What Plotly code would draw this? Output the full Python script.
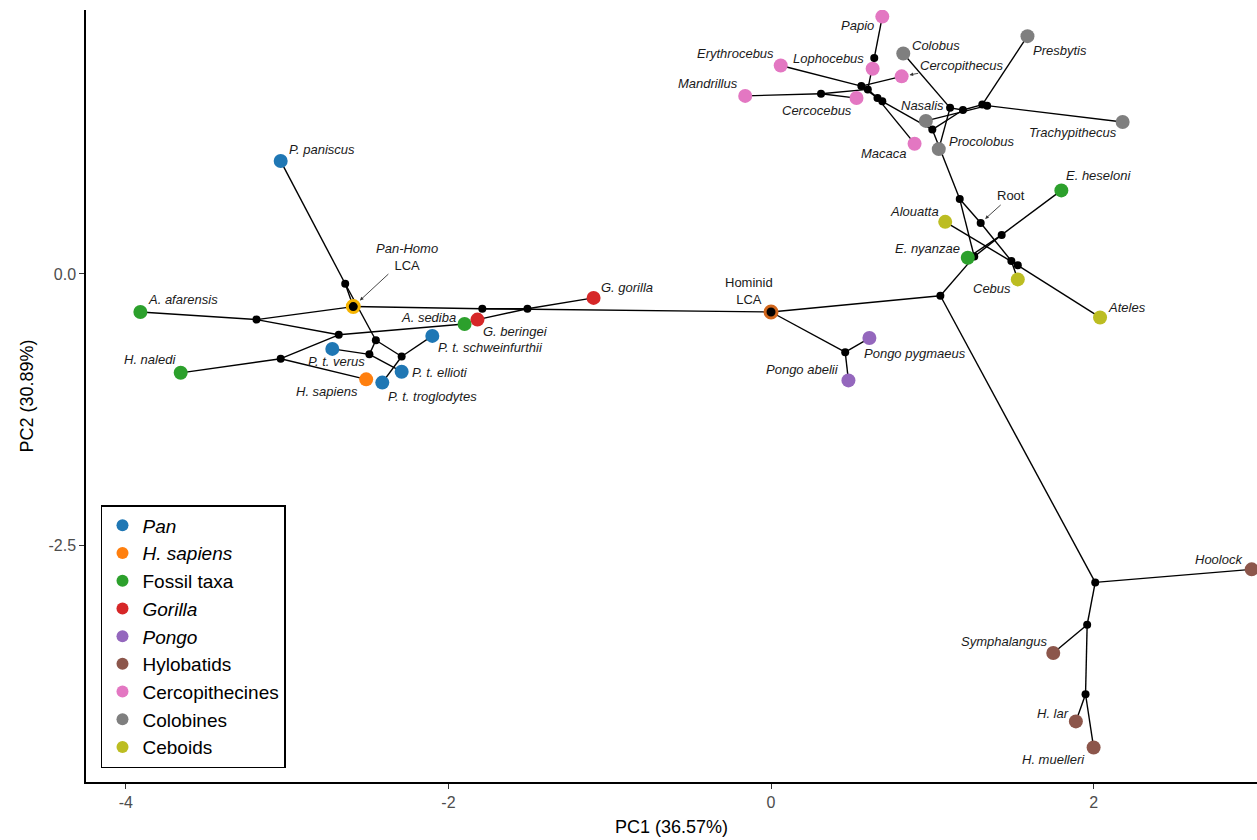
import plotly.graph_objects as go

# ---------------- data ----------------
groups = ["Pan", "H. sapiens", "Fossil taxa", "Gorilla", "Pongo", "Hylobatids",
          "Cercopithecines", "Colobines", "Ceboids"]
group_italic = [True, True, False, True, True, False, False, False, False]
group_colors = ["#1f77b4", "#ff7f0e", "#2ca02c", "#d62728", "#9467bd", "#8c564b",
                "#e377c2", "#7f7f7f", "#bcbd22"]

tip_names = ["P. paniscus", "P. t. verus", "P. t. troglodytes", "P. t. ellioti",
             "P. t. schweinfurthii", "H. sapiens", "A. afarensis", "H. naledi",
             "A. sediba", "E. nyanzae", "E. heseloni", "G. gorilla", "G. beringei",
             "Pongo pygmaeus", "Pongo abelii", "Hoolock", "Symphalangus", "H. lar",
             "H. muelleri", "Papio", "Lophocebus", "Erythrocebus", "Mandrillus",
             "Cercocebus", "Cercopithecus", "Macaca", "Colobus", "Presbytis",
             "Nasalis", "Procolobus", "Trachypithecus", "Alouatta", "Cebus", "Ateles"]
tip_pc1 = [-3.04, -2.72, -2.41, -2.29, -2.10, -2.51, -3.91, -3.66, -1.90, 1.22, 1.80,
           -1.10, -1.82, 0.61, 0.48, 2.98, 1.75, 1.89, 2.00, 0.69, 0.63, 0.06, -0.16,
           0.53, 0.81, 0.89, 0.82, 1.59, 0.96, 1.04, 2.18, 1.08, 1.53, 2.04]
tip_pc2 = [1.04, -0.69, -1.00, -0.90, -0.57, -0.97, -0.35, -0.91, -0.46, 0.15, 0.77,
           -0.22, -0.42, -0.59, -0.98, -2.72, -3.49, -4.12, -4.36, 2.37, 1.89, 1.92,
           1.64, 1.62, 1.82, 1.20, 2.03, 2.19, 1.41, 1.15, 1.40, 0.48, -0.05, -0.40]
tip_group = ["Pan", "Pan", "Pan", "Pan", "Pan", "H. sapiens", "Fossil taxa",
             "Fossil taxa", "Fossil taxa", "Fossil taxa", "Fossil taxa", "Gorilla",
             "Gorilla", "Pongo", "Pongo", "Hylobatids", "Hylobatids", "Hylobatids",
             "Hylobatids", "Cercopithecines", "Cercopithecines", "Cercopithecines",
             "Cercopithecines", "Cercopithecines", "Cercopithecines", "Cercopithecines",
             "Colobines", "Colobines", "Colobines", "Colobines", "Colobines",
             "Ceboids", "Ceboids", "Ceboids"]

# internal (ancestral) nodes
node_names = ["Root", "Catarrhini", "Platyrrhini", "Atelidae", "Hominoidea", "Ekembo",
              "Crown hominoids", "Hylobatidae", "Hylobatid 2", "Hylobates",
              "Hominid LCA", "Pongo node", "Homininae", "Gorilla node", "Pan-Homo LCA",
              "Pan node", "P. troglodytes node", "West chimps", "Central-East chimps",
              "Hominins", "Australopith-Homo", "Homo node", "Cercopithecoidea",
              "Colobinae", "African colobines", "Asian colobines", "Asian colobines 2",
              "Cercopithecinae", "Papionini", "Papionina", "Cercopithecini",
              "Papio-Lophocebus", "Mandrillus-Cercocebus"]
node_pc1 = [1.30, 1.17, 1.49, 1.53, 1.26, 1.43, 1.05, 2.01, 1.96, 1.95,
            0.00, 0.46, -1.79, -1.51, -2.59, -2.64, -2.45, -2.49, -2.29,
            -3.19, -2.68, -3.04, 1.00, 1.19, 1.11, 1.31, 1.34,
            0.69, 0.66, 0.60, 0.56, 0.64, 0.31]
node_pc2 = [0.47, 0.69, 0.12, 0.08, 0.16, 0.36, -0.20, -2.84, -3.23, -3.87,
            -0.35, -0.72, -0.32, -0.32, -0.30, -0.09, -0.61, -0.74, -0.76,
            -0.42, -0.56, -0.78, 1.33, 1.51, 1.53, 1.56, 1.55,
            1.59, 1.62, 1.70, 1.73, 1.99, 1.66]

lca_names = ["Pan-Homo LCA", "Hominid LCA"]
lca_ring_colors = ["#f6b400", "#d0661c"]

edge_parent = ["Root", "Root", "Platyrrhini", "Platyrrhini", "Atelidae", "Atelidae",
               "Catarrhini", "Catarrhini", "Hominoidea", "Hominoidea", "Ekembo", "Ekembo",
               "Crown hominoids", "Crown hominoids", "Hylobatidae", "Hylobatidae",
               "Hylobatid 2", "Hylobatid 2", "Hylobates", "Hylobates",
               "Hominid LCA", "Hominid LCA", "Pongo node", "Pongo node",
               "Homininae", "Homininae", "Gorilla node", "Gorilla node",
               "Pan-Homo LCA", "Pan-Homo LCA", "Pan node", "Pan node",
               "P. troglodytes node", "P. troglodytes node", "West chimps", "West chimps",
               "Central-East chimps", "Central-East chimps", "Hominins", "Hominins",
               "Australopith-Homo", "Australopith-Homo", "Homo node", "Homo node",
               "Cercopithecoidea", "Cercopithecoidea", "Colobinae", "Colobinae",
               "African colobines", "African colobines", "Asian colobines",
               "Asian colobines", "Asian colobines 2", "Asian colobines 2",
               "Cercopithecinae", "Cercopithecinae", "Cercopithecini", "Cercopithecini",
               "Papionini", "Papionini", "Papionina", "Papionina",
               "Papio-Lophocebus", "Papio-Lophocebus", "Mandrillus-Cercocebus",
               "Mandrillus-Cercocebus"]
edge_child = ["Catarrhini", "Platyrrhini", "Cebus", "Atelidae", "Alouatta", "Ateles",
              "Cercopithecoidea", "Hominoidea", "Ekembo", "Crown hominoids",
              "E. heseloni", "E. nyanzae",
              "Hylobatidae", "Hominid LCA", "Hoolock", "Hylobatid 2",
              "Symphalangus", "Hylobates", "H. lar", "H. muelleri",
              "Pongo node", "Homininae", "Pongo pygmaeus", "Pongo abelii",
              "Gorilla node", "Pan-Homo LCA", "G. gorilla", "G. beringei",
              "Pan node", "Hominins", "P. paniscus", "P. troglodytes node",
              "West chimps", "Central-East chimps", "P. t. verus", "P. t. ellioti",
              "P. t. troglodytes", "P. t. schweinfurthii", "A. afarensis",
              "Australopith-Homo", "A. sediba", "Homo node", "H. naledi", "H. sapiens",
              "Colobinae", "Cercopithecinae", "African colobines", "Asian colobines",
              "Colobus", "Procolobus", "Presbytis", "Asian colobines 2",
              "Trachypithecus", "Nasalis",
              "Cercopithecini", "Papionini", "Erythrocebus", "Cercopithecus",
              "Macaca", "Papionina", "Papio-Lophocebus", "Mandrillus-Cercocebus",
              "Papio", "Lophocebus", "Mandrillus", "Cercocebus"]

x_tickvals = [-4, -2, 0, 2]
x_ticktext = ["-4", "-2", "0", "2"]
y_tickvals = [-2.5, 0.0]
y_ticktext = ["-2.5", "0.0"]

# ---------------- label styling (anchor, x offset px, y offset px) ----------------
label_style = {
    "P. paniscus": ("left", 6, 12), "P. t. verus": ("center", 4, -13),
    "P. t. troglodytes": ("left", 4, -14), "P. t. ellioti": ("left", 8, -1),
    "P. t. schweinfurthii": ("left", 4, -12), "H. sapiens": ("right", -6, -12),
    "A. afarensis": ("left", 6, 13), "H. naledi": ("right", -3, 13),
    "A. sediba": ("right", -7, 6), "E. nyanzae": ("right", -6, 9),
    "E. heseloni": ("left", 3, 15), "G. gorilla": ("left", 5, 10),
    "G. beringei": ("left", 4, -12), "Pongo pygmaeus": ("left", -7, -15),
    "Pongo abelii": ("right", -7, 11), "Hoolock": ("right", -7, 10),
    "Symphalangus": ("right", -4, 11), "H. lar": ("right", -5, 8),
    "H. muelleri": ("right", -7, -12), "Papio": ("right", -6, -9),
    "Lophocebus": ("right", -7, 10), "Erythrocebus": ("right", -5, 12),
    "Mandrillus": ("right", -5, 12), "Cercocebus": ("right", -3, -12),
    "Macaca": ("right", -6, -10), "Colobus": ("left", 7, 8),
    "Presbytis": ("left", 4, -14), "Nasalis": ("center", -3, 15),
    "Procolobus": ("left", 8, 8), "Trachypithecus": ("right", -4, -11),
    "Alouatta": ("right", -4, 10), "Cebus": ("right", -5, -9),
    "Ateles": ("left", 6, 10),
}

FONT = "Liberation Sans, Arial, Helvetica, sans-serif"

# ---------------- build ----------------
pos = {}
for n, x, y in zip(tip_names, tip_pc1, tip_pc2):
    pos[n] = (x, y)
for n, x, y in zip(node_names, node_pc1, node_pc2):
    pos[n] = (x, y)

ex, ey = [], []
for p, c in zip(edge_parent, edge_child):
    ex += [pos[p][0], pos[c][0], None]
    ey += [pos[p][1], pos[c][1], None]

fig = go.Figure()
fig.add_trace(go.Scatter(x=ex, y=ey, mode="lines",
                         line=dict(color="black", width=1.4),
                         showlegend=False, hoverinfo="skip"))

inner_x = [x for n, x in zip(node_names, node_pc1) if n not in lca_names]
inner_y = [y for n, y in zip(node_names, node_pc2) if n not in lca_names]
fig.add_trace(go.Scatter(x=inner_x, y=inner_y, mode="markers",
                         marker=dict(color="black", size=8),
                         showlegend=False, hoverinfo="skip"))

for n, col in zip(lca_names, lca_ring_colors):
    fig.add_trace(go.Scatter(x=[pos[n][0]], y=[pos[n][1]], mode="markers",
                             marker=dict(color="black", size=12,
                                         line=dict(color=col, width=3)),
                             showlegend=False, name=n))

for g, it, col in zip(groups, group_italic, group_colors):
    xs = [x for x, gg in zip(tip_pc1, tip_group) if gg == g]
    ys = [y for y, gg in zip(tip_pc2, tip_group) if gg == g]
    nm = [n for n, gg in zip(tip_names, tip_group) if gg == g]
    fig.add_trace(go.Scatter(x=xs, y=ys, mode="markers", text=nm,
                             name=f"<i>{g}</i>" if it else g,
                             marker=dict(color=col, size=14),
                             hoverinfo="text"))

annotations = []
lab_font = dict(family=FONT, size=13, color="#1a1a1a")
for n in tip_names:
    if n not in label_style:
        continue
    anc, dx, dy = label_style[n]
    annotations.append(dict(x=pos[n][0], y=pos[n][1], text=f"<i>{n}</i>",
                            showarrow=False, xanchor=anc, yanchor="middle",
                            xshift=dx, yshift=dy, font=lab_font))

# labels with arrows
annotations.append(dict(x=pos["Cercopithecus"][0], y=pos["Cercopithecus"][1],
                        text="<i>Cercopithecus</i>", showarrow=True, ax=60, ay=-11,
                        arrowhead=2, arrowsize=0.8, arrowwidth=0.9, arrowcolor="#333",
                        standoff=8, font=lab_font))
annotations.append(dict(x=pos["Pan-Homo LCA"][0], y=pos["Pan-Homo LCA"][1],
                        text="<i>Pan-Homo</i><br>LCA", showarrow=True, ax=54, ay=-50,
                        arrowhead=2, arrowsize=0.8, arrowwidth=0.9, arrowcolor="#333",
                        standoff=9, font=lab_font))
annotations.append(dict(x=pos["Root"][0], y=pos["Root"][1],
                        text="Root", showarrow=True, ax=30, ay=-27,
                        arrowhead=2, arrowsize=0.8, arrowwidth=0.9, arrowcolor="#333",
                        standoff=6, font=lab_font))
annotations.append(dict(x=pos["Hominid LCA"][0], y=pos["Hominid LCA"][1],
                        text="Hominid<br>LCA", showarrow=False, xshift=-22, yshift=21,
                        font=lab_font))

fig.update_layout(
    width=1257, height=840,
    margin=dict(l=86, r=0, t=10, b=58),
    plot_bgcolor="white", paper_bgcolor="white",
    font=dict(family=FONT, color="black"),
    annotations=annotations,
    legend=dict(x=0.0128, y=0.3588, xanchor="left", yanchor="top",
                bordercolor="black", borderwidth=1.5, bgcolor="white",
                font=dict(family=FONT, size=19, color="black"),
                itemsizing="constant", tracegroupgap=0),
    xaxis=dict(range=[-4.247, 3.013], tickvals=x_tickvals, ticktext=x_ticktext,
               showgrid=False, zeroline=False, showline=True, linecolor="black",
               linewidth=1.5, ticks="outside", ticklen=5, tickcolor="#333",
               tickfont=dict(size=16, color="#4d4d4d"),
               title=dict(text="PC1 (36.57%)", font=dict(size=18, color="black"),
                          standoff=10)),
    yaxis=dict(range=[-4.678, 2.431], tickvals=y_tickvals, ticktext=y_ticktext,
               showgrid=False, zeroline=False, showline=True, linecolor="black",
               linewidth=1.5, ticks="outside", ticklen=5, tickcolor="#333",
               tickfont=dict(size=16, color="#4d4d4d"),
               title=dict(text="PC2 (30.89%)", font=dict(size=18, color="black"),
                          standoff=10)),
)

fig.write_html("out.html", config={"displayModeBar": False},
               post_script="document.body.style.margin='0px';document.body.style.padding='0px';")
